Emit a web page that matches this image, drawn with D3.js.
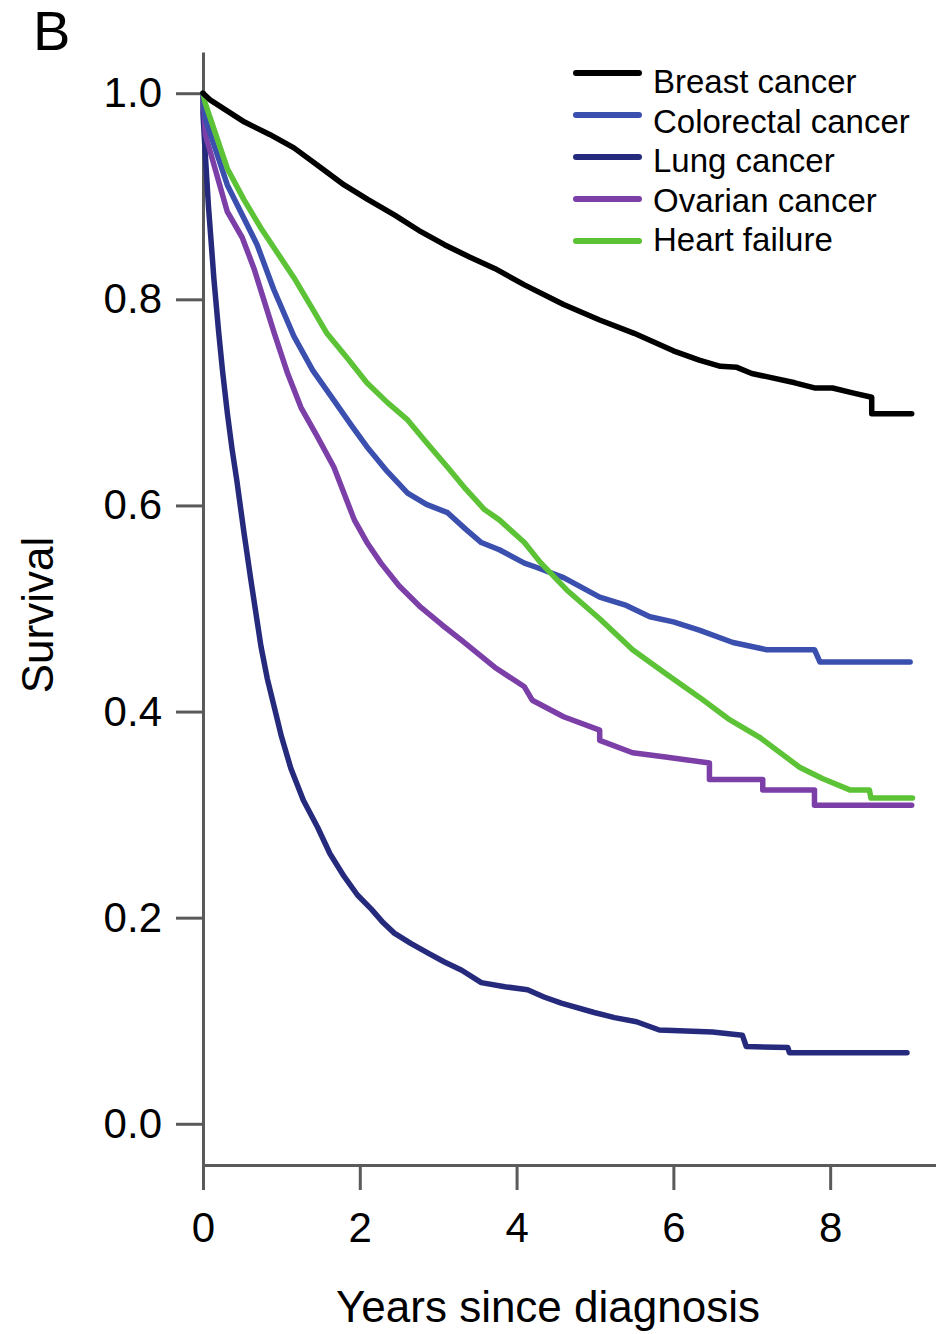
<!DOCTYPE html>
<html>
<head>
<meta charset="utf-8">
<script src="https://cdn.jsdelivr.net/npm/d3@7/dist/d3.min.js"></script>
<style>
  html, body { margin: 0; padding: 0; background: #fff; }
  svg { display: block; font-family: "Liberation Sans", Arial, Helvetica, sans-serif; }
</style>
</head>
<body>
<svg id="chart" width="936" height="1334"></svg>
<script>
// Kaplan-Meier survival estimates, [years since diagnosis, survival]
const breastCancer = [[0,1.0],[0.1,0.993],[0.53,0.972],[0.85,0.960],[1.16,0.947],[1.5,0.928],[1.80,0.911],[2.1,0.897],[2.44,0.882],[2.75,0.867],[3.08,0.853],[3.4,0.841],[3.72,0.830],[4.10,0.814],[4.6,0.795],[5.06,0.780],[5.5,0.767],[6.0,0.750],[6.33,0.741],[6.6,0.735],[6.81,0.734],[7.0,0.728],[7.19,0.725],[7.55,0.719],[7.8,0.714],[8.03,0.714],[8.3,0.709],[8.53,0.705],[8.53,0.689],[9.04,0.689]];
const colorectalCancer = [[0,1.0],[0.03,0.975],[0.31,0.911],[0.69,0.853],[0.9,0.810],[1.16,0.764],[1.4,0.731],[1.67,0.702],[1.9,0.677],[2.09,0.657],[2.35,0.633],[2.61,0.612],[2.85,0.601],[3.12,0.593],[3.35,0.577],[3.55,0.564],[3.78,0.557],[4.10,0.544],[4.25,0.540],[4.6,0.530],[5.06,0.511],[5.4,0.503],[5.70,0.492],[6.0,0.487],[6.33,0.479],[6.76,0.467],[7.19,0.460],[7.80,0.460],[7.87,0.448],[9.02,0.448]];
const lungCancer = [[0,1.0],[0.0,0.98],[0.03,0.94],[0.07,0.89],[0.14,0.819],[0.2,0.768],[0.25,0.730],[0.31,0.690],[0.37,0.655],[0.43,0.625],[0.52,0.575],[0.61,0.528],[0.74,0.463],[0.82,0.432],[0.91,0.404],[1.0,0.376],[1.12,0.345],[1.28,0.314],[1.46,0.288],[1.62,0.262],[1.80,0.240],[1.97,0.222],[2.15,0.208],[2.3,0.195],[2.44,0.185],[2.65,0.175],[2.86,0.166],[3.08,0.157],[3.30,0.149],[3.55,0.137],[3.85,0.133],[4.14,0.130],[4.35,0.123],[4.57,0.117],[4.99,0.108],[5.25,0.103],[5.53,0.099],[5.82,0.091],[6.5,0.089],[6.88,0.086],[6.93,0.075],[7.46,0.074],[7.48,0.069],[8.98,0.069]];
const ovarianCancer = [[0,1.0],[0.03,0.96],[0.31,0.885],[0.5,0.860],[0.65,0.830],[0.91,0.767],[1.08,0.728],[1.25,0.695],[1.45,0.668],[1.67,0.637],[1.93,0.586],[2.1,0.563],[2.27,0.544],[2.5,0.522],[2.78,0.501],[3.05,0.484],[3.30,0.469],[3.72,0.443],[4.10,0.424],[4.2,0.411],[4.6,0.395],[5.06,0.382],[5.06,0.372],[5.48,0.360],[5.9,0.356],[6.46,0.350],[6.46,0.334],[7.14,0.334],[7.14,0.324],[7.80,0.324],[7.80,0.309],[9.04,0.309]];
const heartFailure = [[0,1.0],[0.03,0.99],[0.31,0.927],[0.52,0.897],[0.74,0.869],[0.95,0.845],[1.16,0.821],[1.38,0.793],[1.58,0.767],[1.85,0.742],[2.09,0.719],[2.35,0.700],[2.61,0.683],[2.85,0.661],[3.12,0.637],[3.35,0.616],[3.59,0.596],[3.78,0.586],[4.10,0.564],[4.3,0.545],[4.64,0.518],[5.06,0.490],[5.48,0.460],[5.9,0.437],[6.33,0.414],[6.7,0.393],[7.10,0.375],[7.61,0.346],[7.9,0.335],[8.25,0.324],[8.5,0.324],[8.52,0.316],[9.05,0.316]];

const seriesNames = ["Breast cancer", "Colorectal cancer", "Lung cancer", "Ovarian cancer", "Heart failure"];
const seriesValues = [breastCancer, colorectalCancer, lungCancer, ovarianCancer, heartFailure];
const seriesColors = ["#000000", "#3a4fae", "#262a7c", "#7c3fa8", "#5cc236"];
// Draw order: lower curves beneath, breast cancer on top
const drawOrder = [2, 3, 1, 4, 0];

const xTicks = [0, 2, 4, 6, 8];
const yTicks = [0.0, 0.2, 0.4, 0.6, 0.8, 1.0];

const svg = d3.select("#chart");

const x = d3.scaleLinear().domain([0, 9.35]).range([203, 936]);
const y = d3.scaleLinear().domain([-0.04, 1.04]).range([1165, 52]);

const axisColor = "#5a5a5a";

// Axes
const yAxis = svg.append("g")
  .attr("transform", `translate(${x(0)},0)`)
  .call(d3.axisLeft(y).tickValues(yTicks).tickFormat(d3.format(".1f")).tickSize(27).tickSizeOuter(0).tickPadding(14));
const xAxis = svg.append("g")
  .attr("transform", `translate(0,${y(-0.04)})`)
  .call(d3.axisBottom(x).tickValues(xTicks).tickFormat(d3.format("d")).tickSize(25).tickSizeOuter(0).tickPadding(22));

[yAxis, xAxis].forEach(g => {
  g.select(".domain").attr("stroke", axisColor).attr("stroke-width", 3);
  g.selectAll(".tick line").attr("stroke", axisColor).attr("stroke-width", 3);
  g.selectAll(".tick text").attr("fill", "#000").attr("font-size", 42)
    .attr("font-family", "'Liberation Sans', Arial, Helvetica, sans-serif");
});

// Survival curves
const line = d3.line().x(d => x(d[0])).y(d => y(d[1])).curve(d3.curveLinear);
svg.append("g").selectAll("path")
  .data(drawOrder)
  .join("path")
  .attr("d", i => line(seriesValues[i]))
  .attr("fill", "none")
  .attr("stroke", i => seriesColors[i])
  .attr("stroke-width", 5.5)
  .attr("stroke-linejoin", "round")
  .attr("stroke-linecap", "round");

// Legend
const legend = svg.append("g");
seriesNames.forEach((name, i) => {
  const ly = 73 + i * 42;
  legend.append("line")
    .attr("x1", 576).attr("x2", 639)
    .attr("y1", ly).attr("y2", ly)
    .attr("stroke", seriesColors[i])
    .attr("stroke-width", 6)
    .attr("stroke-linecap", "round");
  legend.append("text")
    .attr("x", 653)
    .attr("y", 93 + i * 39.5)
    .attr("font-size", 33)
    .attr("fill", "#000")
    .text(name);
});

// Axis titles
svg.append("text")
  .attr("x", 548).attr("y", 1322)
  .attr("text-anchor", "middle")
  .attr("font-size", 44)
  .attr("fill", "#000")
  .text("Years since diagnosis");

svg.append("text")
  .attr("transform", "translate(53,615) rotate(-90)")
  .attr("text-anchor", "middle")
  .attr("font-size", 44)
  .attr("fill", "#000")
  .text("Survival");

// Panel letter
svg.append("text")
  .attr("x", 33).attr("y", 50)
  .attr("font-size", 56)
  .attr("fill", "#000")
  .text("B");
</script>
</body>
</html>
